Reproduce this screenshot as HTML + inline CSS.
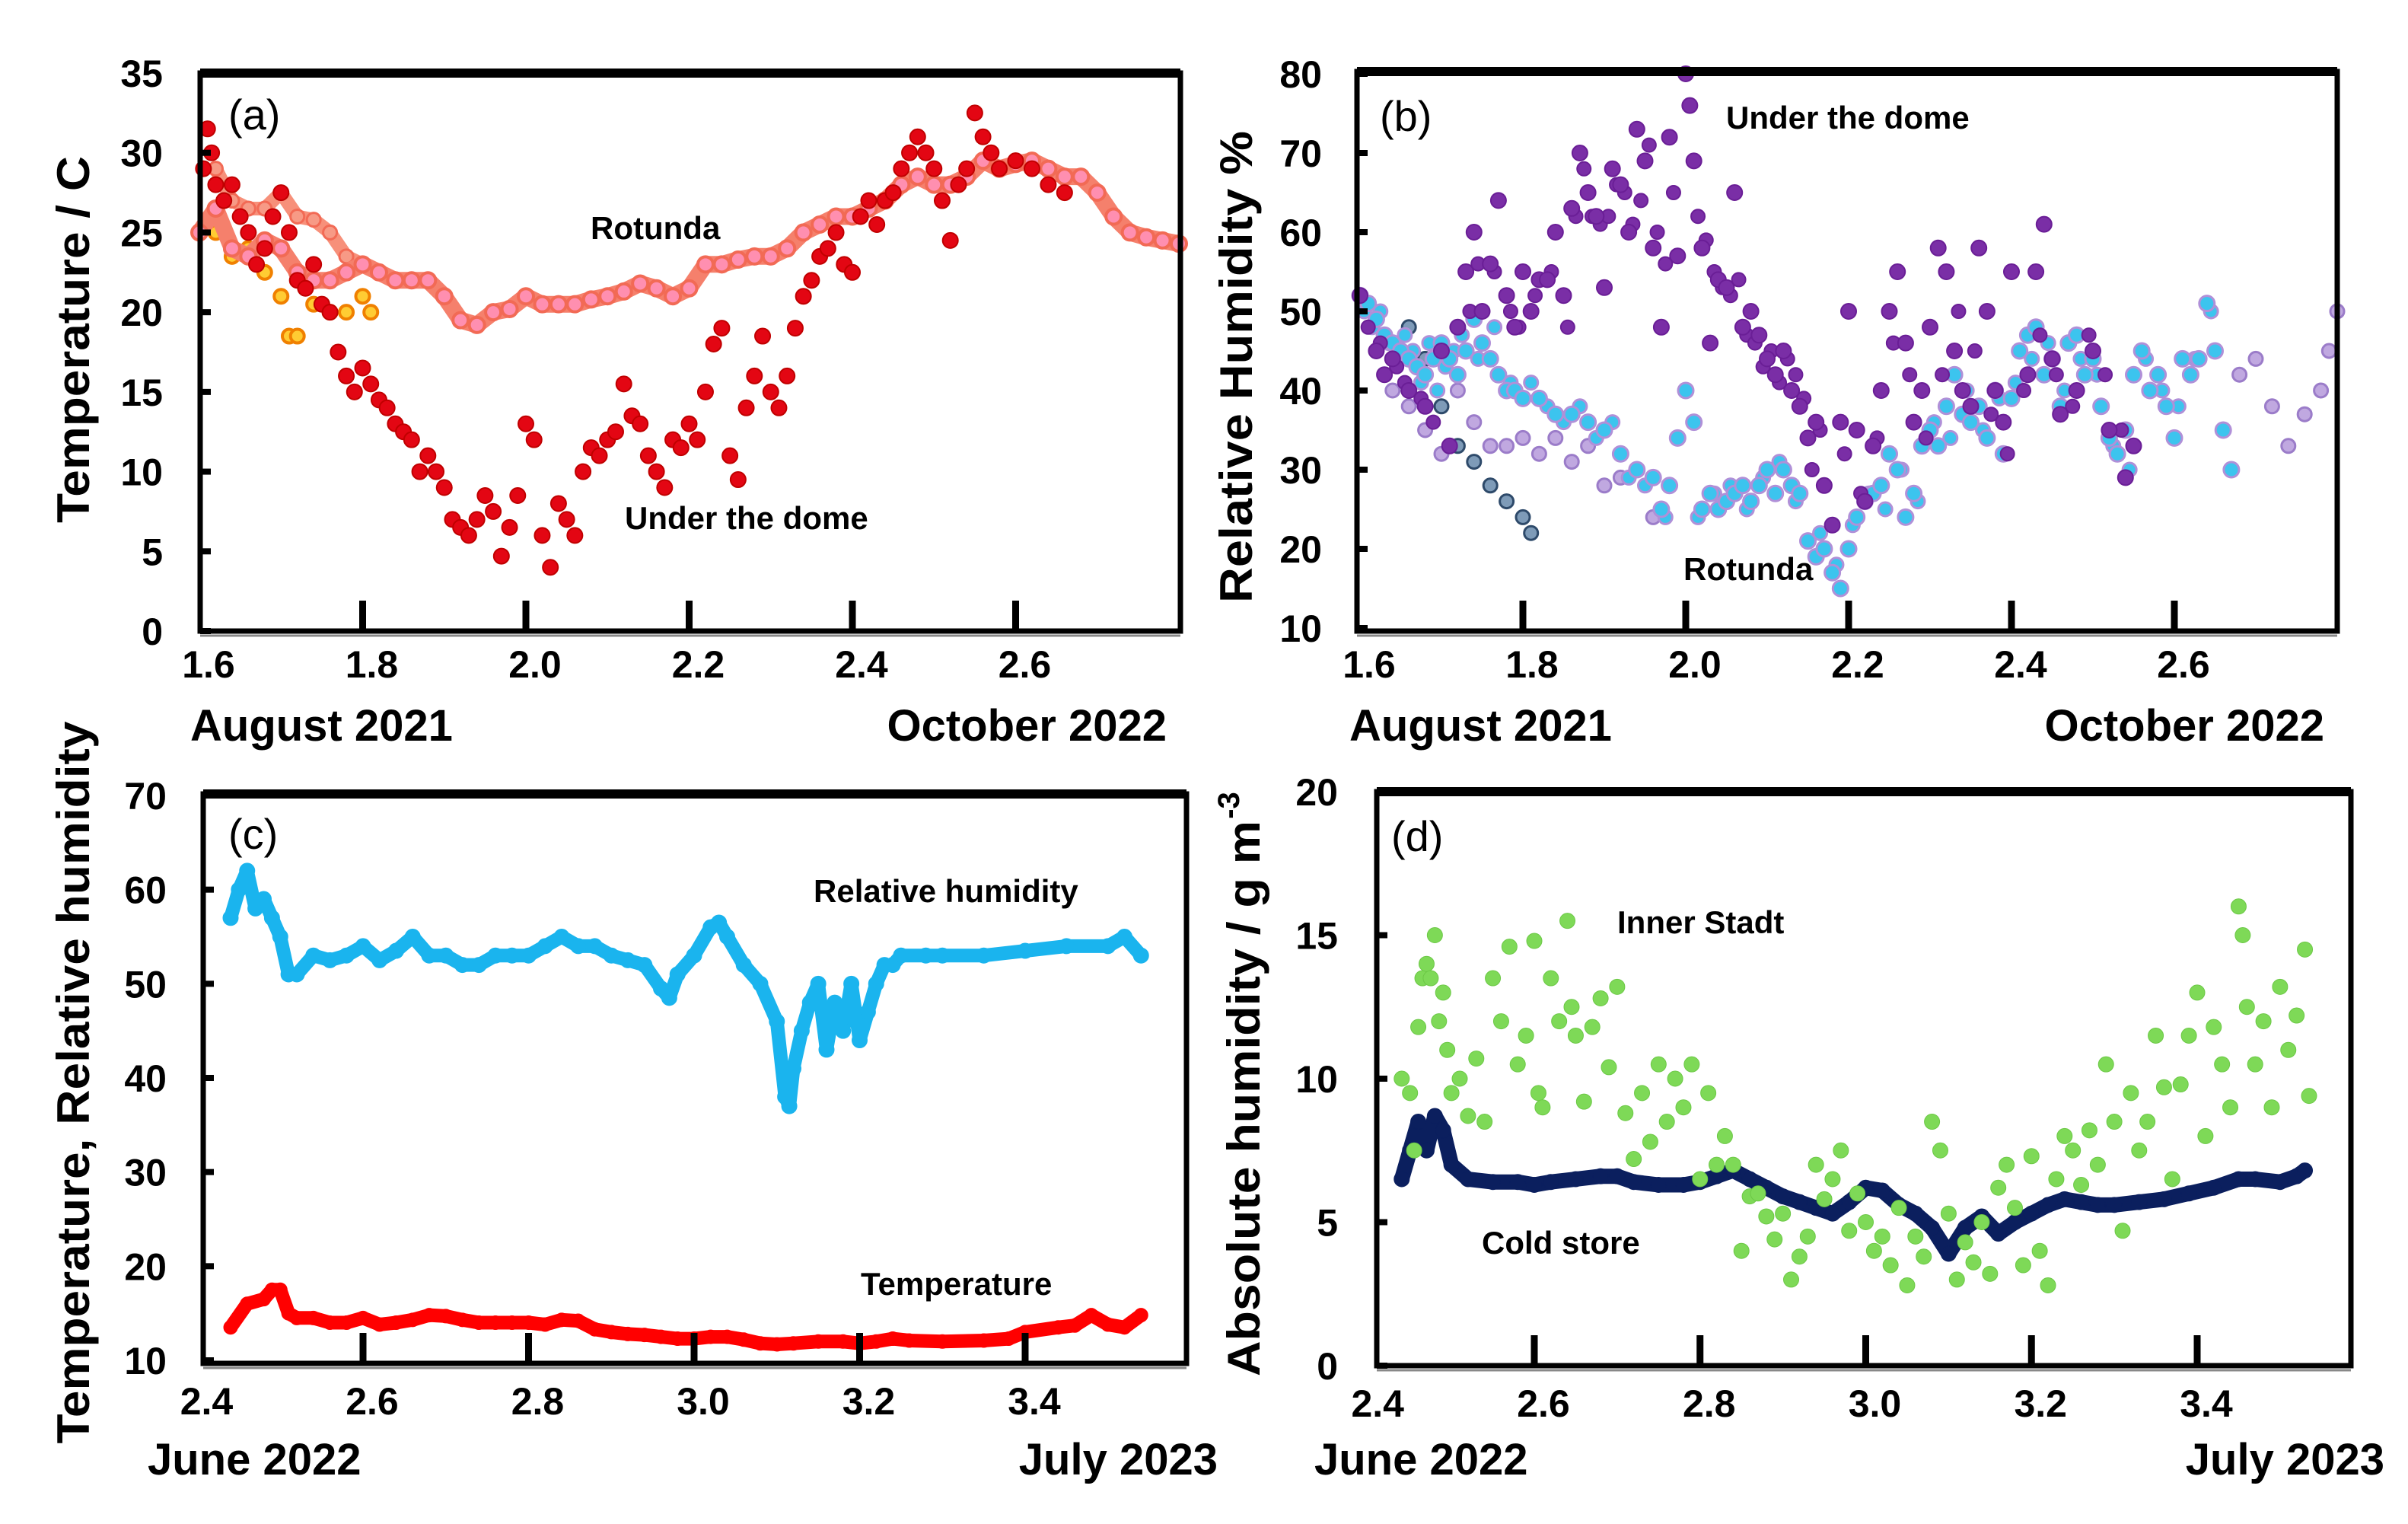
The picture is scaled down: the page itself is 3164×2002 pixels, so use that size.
<!DOCTYPE html>
<html><head><meta charset="utf-8">
<style>
html,body{margin:0;padding:0;background:#fff;}
svg{display:block;}
.tk{font-family:"Liberation Sans Narrow","Liberation Sans",sans-serif;font-weight:bold;font-size:50px;fill:#000;}
.dt{font-family:"Liberation Sans Narrow","Liberation Sans",sans-serif;font-weight:bold;font-size:58px;fill:#000;}
.ti{font-family:"Liberation Sans",sans-serif;font-weight:bold;font-size:60px;fill:#000;}
.an{font-family:"Liberation Sans Narrow","Liberation Sans",sans-serif;font-weight:bold;font-size:42px;fill:#000;}
.pl{font-family:"Liberation Sans",sans-serif;font-size:56px;fill:#000;}
</style></head>
<body>
<svg id="fig" width="3164" height="2002" viewBox="0 0 3164 2002" xmlns="http://www.w3.org/2000/svg">
<rect width="3164" height="2002" fill="#fff"/>
<g>
<text class="ti" transform="translate(117,446) rotate(-90)" text-anchor="middle" textLength="482" lengthAdjust="spacingAndGlyphs">Temperature / C</text>
<text class="pl" x="300" y="170">(a)</text>
<text class="an" x="776" y="314">Rotunda</text>
<text class="an" x="821" y="695">Under the dome</text>
<text class="dt" x="250" y="973">August 2021</text>
<text class="dt" x="1533" y="973" text-anchor="end">October 2022</text>
</g>
<g>
<text class="ti" transform="translate(1645,482) rotate(-90)" text-anchor="middle" textLength="620" lengthAdjust="spacingAndGlyphs">Relative Humidity %</text>
<text class="pl" x="1813" y="172">(b)</text>
<text class="an" x="2268" y="169">Under the dome</text>
<text class="an" x="2212" y="762">Rotunda</text>
<text class="dt" x="1773" y="973">August 2021</text>
<text class="dt" x="3054" y="973" text-anchor="end">October 2022</text>
</g>
<g>
<text class="ti" transform="translate(117,1422) rotate(-90)" text-anchor="middle" textLength="949" lengthAdjust="spacingAndGlyphs">Temperature, Relative humidity</text>
<text class="pl" x="300" y="1115">(c)</text>
<text class="an" x="1069" y="1185">Relative humidity</text>
<text class="an" x="1131" y="1701">Temperature</text>
<text class="dt" x="194" y="1937">June 2022</text>
<text class="dt" x="1600" y="1937" text-anchor="end">July 2023</text>
</g>
<g>
<text class="ti" transform="translate(1655,1443) rotate(-90)" text-anchor="middle" textLength="730" lengthAdjust="spacingAndGlyphs">Absolute humidity / g m</text>
<text class="ti" transform="translate(1628,1058) rotate(-90)" text-anchor="middle" style="font-size:40px">-3</text>
<text class="pl" x="1828" y="1118">(d)</text>
<text class="an" x="2125" y="1226">Inner Stadt</text>
<text class="an" x="1947" y="1647">Cold store</text>
<text class="dt" x="1727" y="1937">June 2022</text>
<text class="dt" x="3133" y="1937" text-anchor="end">July 2023</text>
</g>
</svg>
<script>
// ---------- Panel (a) data ----------
const aRotX = [1.60,1.62,1.64,1.66,1.68,1.70,1.72,1.74,1.76,1.78,1.80,1.82,1.84,1.86,1.88,1.90,1.92,1.94,1.96,1.98,2.00,2.02,2.04,2.06,2.08,2.10,2.12,2.14,2.16,2.18,2.20,2.22,2.24,2.26,2.28,2.30,2.32,2.34,2.36,2.38,2.40,2.42,2.44,2.46,2.48,2.50,2.52,2.54,2.56,2.58,2.60,2.62,2.64,2.66,2.68,2.70,2.72,2.74,2.76,2.78,2.80];
const aRotY = [25,26.5,24,23.5,24.5,24,22.5,22,22,22.5,23,22.5,22,22,22,21,19.5,19.2,20,20.2,21,20.5,20.5,20.5,20.8,21,21.3,21.8,21.5,21,21.5,23,23,23.3,23.5,23.5,24,25,25.5,26,26,26.5,27,28,28.5,28,28,28.5,29.5,29,29.3,29.5,29,28.5,28.5,27.5,26,25,24.7,24.5,24.3];
const aRotUpX = [1.62,1.64,1.66,1.68,1.70,1.72,1.74,1.76,1.78,1.80];
const aRotUpY = [29,27,26.5,26.5,27.5,26,25.8,25,23.5,23];
const aOrX = [1.62,1.64,1.66,1.68,1.70,1.71,1.72,1.74,1.76,1.78,1.80,1.81];
const aOrY = [25,23.5,24,22.5,21,18.5,18.5,20.5,20,20,21,20];
const aDomeX = [1.605,1.61,1.615,1.62,1.63,1.64,1.65,1.66,1.67,1.68,1.69,1.70,1.71,1.72,1.73,1.74,1.75,1.76,1.77,1.78,1.79,1.80,1.81,1.82,1.83,1.84,1.85,1.86,1.87,1.88,1.89,1.90,1.91,1.92,1.93,1.94,1.95,1.96,1.97,1.98,1.99,2.00,2.01,2.02,2.03,2.04,2.05,2.06,2.07,2.08,2.09,2.10,2.11,2.12,2.13,2.14,2.15,2.16,2.17,2.18,2.19,2.20,2.21,2.22,2.23,2.24,2.25,2.26,2.27,2.28,2.29,2.30,2.31,2.32,2.33,2.34,2.35,2.36,2.37,2.38,2.39,2.40,2.41,2.42,2.43,2.44,2.45,2.46,2.47,2.48,2.49,2.50,2.51,2.52,2.53,2.54,2.55,2.56,2.57,2.58,2.60,2.62,2.64,2.66];
const aDomeY = [29,31.5,30,28,27,28,26,25,23,24,26,27.5,25,22,21.5,23,20.5,20,17.5,16,15,16.5,15.5,14.5,14,13,12.5,12,10,11,10,9,7,6.5,6,7,8.5,7.5,4.7,6.5,8.5,13,12,6,4,8,7,6,10,11.5,11,12,12.5,15.5,13.5,13,11,10,9,12,11.5,13,12,15,18,19,11,9.5,14,16,18.5,15,14,16,19,21,22,23.5,24,25,23,22.5,26,27,25.5,27,27.5,29,30,31,30,29,27,24.5,28,29,32.5,31,30,29,29.5,29,28,27.5];
const aYTicks = [0,5,10,15,20,25,30,35];
const aXTicks = [1.6,1.8,2.0,2.2,2.4,2.6];
const aXLabels = ["1.6","1.8","2.0","2.2","2.4","2.6"];

// ---------- Panel (b) data ----------
const bDomeX = [1.60,1.62,1.63,1.64,1.66,1.68,1.70,1.71,1.72,1.73,1.74,1.75,1.76,1.77,1.78,1.79,1.80,1.81,1.82,1.83,1.84,1.85,1.86,1.87,1.88,1.89,1.90,1.91,1.92,1.93,1.94,1.95,1.96,1.97,1.98,1.99,2.00,2.005,2.01,2.02,2.03,2.04,2.05,2.06,2.07,2.08,2.09,2.10,2.11,2.12,2.13,2.14,2.15,2.16,2.17,2.18,2.19,2.20,2.21,2.22,2.23,2.24,2.25,2.26,2.27,2.28,2.29,2.30,2.31,2.32,2.33,2.34,2.35,2.36,2.37,2.38,2.39,2.40,2.42,2.43,2.44,2.45,2.46,2.48,2.50,2.52,2.54,2.55];
const bDomeY = [52,45,42,44,40,38,45,33,48,55,60,50,56,64,52,48,55,50,54,54,60,52,63,70,65,62,53,68,66,60,73,69,58,48,72,57,80,76,69,58,46,54,53,65,48,50,47,44,42,45,40,38,34,36,28,23,36,50,35,26,33,40,50,55,46,36,40,48,58,55,45,40,38,58,50,40,36,55,42,55,61,44,37,40,45,35,29,33];
const bDome2X = [1.61,1.625,1.645,1.655,1.675,1.69,1.735,1.745,1.765,1.785,1.795,1.815,1.835,1.855,1.865,1.875,1.885,1.895,1.905,1.915,1.925,1.935,1.945,1.955,1.965,1.975,1.985,2.015,2.025,2.035,2.045,2.055,2.065,2.075,2.085,2.095,2.105,2.115,2.125,2.135,2.145,2.155,2.165,2.195,2.215,2.235,2.255,2.275,2.295,2.315,2.335,2.355,2.375,2.395,2.415,2.435,2.455,2.475,2.495,2.515,2.535];
const bDome2Y = [48,46,43,41,39,36,50,56,55,50,48,52,55,48,62,68,62,61,62,66,65,61,64,71,60,56,65,62,59,55,53,52,54,47,46,43,45,41,44,42,39,30,35,32,27,34,46,42,34,42,50,45,37,32,40,47,42,38,47,42,35];
const bRotX = [1.60,1.61,1.62,1.63,1.64,1.65,1.66,1.67,1.68,1.69,1.70,1.71,1.72,1.73,1.74,1.75,1.76,1.77,1.78,1.79,1.80,1.82,1.84,1.86,1.88,1.90,1.92,1.94,1.96,1.97,1.98,1.99,2.00,2.01,2.02,2.03,2.04,2.05,2.06,2.07,2.08,2.09,2.10,2.11,2.12,2.13,2.14,2.15,2.16,2.17,2.18,2.19,2.20,2.21,2.22,2.23,2.24,2.25,2.26,2.27,2.28,2.29,2.30,2.31,2.32,2.33,2.34,2.35,2.36,2.37,2.38,2.39,2.40,2.41,2.42,2.43,2.44,2.45,2.46,2.47,2.48,2.49,2.50,2.51,2.52,2.53,2.54,2.55,2.56,2.57,2.58,2.59,2.60,2.61,2.62,2.63,2.64,2.65,2.66,2.67];
const bRotY = [52,51,49,47,46,45,44,43,42,44,46,44,42,45,49,46,44,42,40,40,39,39,37,37,36,35,32,30,29,25,28,34,40,36,25,27,25,26,27,28,26,28,30,27,30,28,27,21,19,20,17,15,20,24,26,27,28,32,30,24,27,33,35,33,38,42,37,36,38,34,40,32,39,45,47,48,42,44,38,46,47,42,44,38,34,32,35,42,45,40,42,38,34,44,42,44,51,45,35,30];
const bRot2X = [1.605,1.615,1.625,1.635,1.645,1.655,1.665,1.675,1.685,1.695,1.705,1.715,1.725,1.745,1.765,1.785,1.81,1.83,1.85,1.87,1.89,1.91,1.93,1.95,1.975,2.015,2.035,2.055,2.075,2.095,2.115,2.135,2.165,2.185,2.205,2.225,2.245,2.265,2.285,2.305,2.325,2.345,2.365,2.385,2.405,2.425,2.445,2.465,2.485,2.505,2.525,2.545,2.565,2.585,2.605,2.625,2.645];
const bRot2Y = [50,48,50,46,44,47,45,41,46,40,43,45,47,44,48,41,41,38,36,38,34,36,29,28,24,24,27,28,25,29,31,26,22,18,23,27,25,30,26,36,34,40,35,39,41,44,46,40,44,42,33,30,44,40,38,44,50];
const bLavX = [1.62,1.64,1.66,1.68,1.70,1.72,1.74,1.76,1.78,1.80,1.82,1.84,1.86,1.88,1.90,1.92,1.94,1.96,2.68,2.70,2.72,2.74,2.76,2.78,2.79,2.80];
const bLavY = [45,40,38,35,32,40,36,33,33,34,32,34,31,33,28,29,30,24,42,44,38,33,37,40,45,50];
const bSteelX = [1.66,1.68,1.70,1.72,1.74,1.76,1.78,1.80,1.81];
const bSteelY = [48,44,38,33,31,28,26,24,22];
const bYTicks = [10,20,30,40,50,60,70,80];
const bXTicks = [1.6,1.8,2.0,2.2,2.4,2.6];
const bXLabels = ["1.6","1.8","2.0","2.2","2.4","2.6"];

// ---------- Panel (c) data ----------
const cRhX = [2.44,2.45,2.46,2.47,2.48,2.49,2.50,2.51,2.52,2.54,2.56,2.58,2.60,2.62,2.64,2.66,2.68,2.70,2.72,2.74,2.76,2.78,2.80,2.82,2.84,2.86,2.88,2.90,2.92,2.94,2.96,2.97,2.98,3.00,3.02,3.03,3.04,3.06,3.08,3.10,3.11,3.115,3.12,3.13,3.14,3.15,3.16,3.17,3.18,3.19,3.20,3.21,3.22,3.23,3.24,3.25,3.28,3.30,3.35,3.40,3.45,3.50,3.52,3.54];
const cRhY = [57,60,62,58,59,57,55,51,51,53,52.5,53,54,52.5,53.5,55,53,53,52,52,53,53,53,54,55,54,54,53,52.5,52,49.5,48.5,51,53,56,56.5,55,52,50,46,38,37,41,45,48,50,43,48,45,50,44,47,50,52,52,53,53,53,53,53.5,54,54,55,53];
const cTX = [2.44,2.46,2.48,2.49,2.50,2.51,2.52,2.54,2.56,2.58,2.60,2.62,2.64,2.66,2.68,2.70,2.72,2.74,2.76,2.78,2.80,2.82,2.84,2.86,2.88,2.90,2.92,2.94,2.96,2.98,3.00,3.02,3.04,3.06,3.08,3.10,3.12,3.15,3.18,3.20,3.22,3.24,3.26,3.30,3.35,3.38,3.40,3.44,3.46,3.48,3.50,3.52,3.54];
const cTY = [13.5,16,16.5,17.5,17.5,15,14.5,14.5,14,14,14.5,13.8,14,14.3,14.8,14.7,14.3,14,14,14,14,13.8,14.3,14.2,13.3,13,12.8,12.7,12.5,12.3,12.3,12.5,12.5,12.2,11.8,11.7,11.8,12,12,11.8,12,12.3,12.1,12,12.1,12.3,13,13.5,13.7,14.8,13.8,13.5,14.8];
const cYTicks = [10,20,30,40,50,60,70];
const cXTicks = [2.6,2.8,3.0,3.2,3.4];
const cXLabelVals = [2.4,2.6,2.8,3.0,3.2,3.4];
const cXLabels = ["2.4","2.6","2.8","3.0","3.2","3.4"];

// ---------- Panel (d) data ----------
const dColdX = [2.44,2.45,2.46,2.47,2.48,2.49,2.50,2.52,2.55,2.58,2.60,2.62,2.65,2.68,2.70,2.72,2.75,2.78,2.80,2.82,2.84,2.86,2.88,2.90,2.92,2.94,2.96,2.98,3.00,3.02,3.04,3.06,3.08,3.10,3.12,3.14,3.16,3.18,3.20,3.22,3.24,3.26,3.28,3.30,3.33,3.36,3.39,3.42,3.45,3.47,3.50,3.52,3.53];
const dColdY = [6.5,7.5,8.5,7.5,8.7,8.2,7,6.5,6.4,6.4,6.3,6.4,6.5,6.6,6.6,6.4,6.3,6.3,6.4,6.6,6.8,6.5,6.2,5.9,5.7,5.5,5.3,5.7,6.2,6.1,5.6,5.3,4.8,3.9,4.8,5.2,4.6,5.0,5.3,5.6,5.8,5.7,5.6,5.6,5.7,5.8,6.0,6.2,6.5,6.5,6.4,6.6,6.8];
const dInnerX = [2.44,2.45,2.455,2.46,2.465,2.47,2.475,2.48,2.485,2.49,2.495,2.50,2.51,2.52,2.53,2.54,2.55,2.56,2.57,2.58,2.59,2.60,2.605,2.61,2.62,2.63,2.64,2.645,2.65,2.66,2.67,2.68,2.69,2.70,2.71,2.72,2.73,2.74,2.75,2.76,2.77,2.78,2.79,2.80,2.81,2.82,2.83,2.84,2.85,2.86,2.87,2.88,2.89,2.90,2.91,2.92,2.93,2.94,2.95,2.96,2.97,2.98,2.99,3.00,3.01,3.02,3.03,3.04,3.05,3.06,3.07,3.08,3.09,3.10,3.11,3.12,3.13,3.14,3.15,3.16,3.17,3.18,3.19,3.20,3.21,3.22,3.23,3.24,3.25,3.26,3.27,3.28,3.29,3.30,3.31,3.32,3.33,3.34,3.35,3.36,3.37,3.38,3.39,3.40,3.41,3.42,3.43,3.44,3.45,3.455,3.46,3.47,3.48,3.49,3.50,3.51,3.52,3.53,3.535];
const dInnerY = [10,9.5,7.5,11.8,13.5,14,13.5,15,12,13,11,9.5,10,8.7,10.7,8.5,13.5,12,14.6,10.5,11.5,14.8,9.5,9,13.5,12,15.5,12.5,11.5,9.2,11.8,12.8,10.4,13.2,8.8,7.2,9.5,7.8,10.5,8.5,10,9,10.5,6.5,9.5,7,8,7,4,5.9,6,5.2,4.4,5.3,3,3.8,4.5,7,5.8,6.5,7.5,4.7,6,5,4,4.5,3.5,5.5,2.8,4.5,3.8,8.5,7.5,5.3,3,4.3,3.6,5,3.2,6.2,7,5.5,3.5,7.3,4,2.8,6.5,8,7.5,6.3,8.2,7,10.5,8.5,4.7,9.5,7.5,8.5,11.5,9.7,6.5,9.8,11.5,13,8,11.8,10.5,9,16,15,12.5,10.5,12,9,13.2,11,12.2,14.5,9.4];
const dYTicks = [0,5,10,15,20];
const dXTicks = [2.6,2.8,3.0,3.2,3.4];
const dXLabelVals = [2.4,2.6,2.8,3.0,3.2,3.4];
const dXLabels = ["2.4","2.6","2.8","3.0","3.2","3.4"];

const NS = "http://www.w3.org/2000/svg";
const svg = document.getElementById("fig");
function el(tag, attrs, parent){
  const e = document.createElementNS(NS, tag);
  for (const k in attrs) e.setAttribute(k, attrs[k]);
  (parent||svg).appendChild(e);
  return e;
}
function scale(d0,d1,r0,r1){ return v => r0 + (v-d0)/(d1-d0)*(r1-r0); }

function frame(p, name){
  const g = el("g", {});
  
  
  const r = el("rect", {x:p.L, y:p.T, width:p.R-p.L, height:p.B-p.T, fill:"none", stroke:"#000", "stroke-width":7}, g);
  
  
  const t = el("line", {x1:p.L, y1:p.T, x2:p.R, y2:p.T, stroke:"#000", "stroke-width":12}, g);
  
  
  const b2 = el("line", {x1:p.L, y1:p.B+6, x2:p.R, y2:p.B+6, stroke:"#888", "stroke-width":3}, g);
  
  
}
function yAxis(p, ys, ticks, labX, name){
  const g = el("g", {});
  
  
  ticks.forEach(v => {
    const tl = el("line", {x1:p.L, y1:ys(v), x2:p.L+14, y2:ys(v), stroke:"#000", "stroke-width":8}, g);
    
    
    const tx = el("text", {x:labX, y:ys(v)+18, "text-anchor":"end", class:"tk"}, g);
    
    
    tx.textContent = String(v);
  });
}
function xAxis(p, xs, ticks, labVals, labs, labY, off, name){
  const g = el("g", {});
  
  
  ticks.forEach(v => {
    const tl = el("line", {x1:xs(v), y1:p.B, x2:xs(v), y2:p.B-40, stroke:"#000", "stroke-width":9}, g);
    
    
  });
  labVals.forEach((v,i) => {
    const tx = el("text", {x:xs(v)+off, y:labY, "text-anchor":"middle", class:"tk"}, g);
    
    
    tx.textContent = labs[i];
  });
}
function series(xs, ys, X, Y, r, fill, stroke, sw, name, line){
  const g = el("g", {});
  
  
  if (line){
    const pts = X.map((x,i) => xs(x).toFixed(1)+","+ys(Y[i]).toFixed(1)).join(" ");
    const pl = el("polyline", {points:pts, fill:"none", stroke:line.color, "stroke-width":line.w, "stroke-linejoin":"round", "stroke-linecap":"round"}, g);
    
    
  }
  X.forEach((x,i) => {
    const c = el("circle", {cx:xs(x), cy:ys(Y[i]), r:r, fill:fill, stroke:stroke, "stroke-width":sw}, g);
    
    
  });
}

// Panel a
const pa = {L:263, T:96, R:1551, B:829};
const axs = scale(1.6, 2.8, 262, 1549), ays = scale(0, 35, 829, 96);
series(axs, ays, aRotUpX, aRotUpY, 9, "#f79a86", "#f26a55", 3, "rotunda-upper-series-a", {color:"#f7907a", w:18});
series(axs, ays, aOrX, aOrY, 9, "#ffcc33", "#f08000", 4, "rotunda-orange-series-a", null);
series(axs, ays, aRotX, aRotY, 10, "#ff8fb0", "#f26a55", 4, "rotunda-series-a", {color:"#f5806c", w:22});
series(axs, ays, aDomeX, aDomeY, 10, "#e30613", "#c00000", 2, "under-dome-series-a", null);
frame(pa, "panel-a");
yAxis(pa, ays, aYTicks, 214, "panel-a");
xAxis(pa, axs, aXTicks.slice(1), aXTicks, aXLabels, 890, 12, "panel-a");

// Panel b
const pb = {L:1783, T:94, R:3071, B:829};
const bxs = scale(1.6, 2.8, 1787, 3071), bys = scale(10, 80, 825, 97);
series(bxs, bys, bLavX, bLavY, 9, "#c0a8e0", "#9b7cc9", 3, "rotunda-lavender-series-b", null);
series(bxs, bys, bSteelX, bSteelY, 9, "#7e9bb8", "#2e4a6a", 3, "rotunda-steel-series-b", null);
series(bxs, bys, bRot2X, bRot2Y, 9, "#3cc4ee", "#b090d8", 3, "rotunda-series-b-extra", null);
series(bxs, bys, bRotX, bRotY, 10, "#3cc4ee", "#b090d8", 3, "rotunda-series-b", null);
series(bxs, bys, bDome2X, bDome2Y, 9, "#7a2ea6", "#6a1e96", 2, "under-dome-series-b-extra", null);
series(bxs, bys, bDomeX, bDomeY, 10, "#7a2ea6", "#6a1e96", 2, "under-dome-series-b", null);
frame(pb, "panel-b");
yAxis(pb, bys, bYTicks, 1737, "panel-b");
xAxis(pb, bxs, bXTicks.slice(1), bXTicks, bXLabels, 890, 12, "panel-b");

// Panel c
const pc = {L:267, T:1043, R:1559, B:1791};
const cxs = scale(2.6, 3.4, 477, 1347), cys = scale(10, 70, 1787, 1045);
series(cxs, cys, cRhX, cRhY, 10, "#1ab4ee", "#1ab4ee", 1, "relative-humidity-series-c", {color:"#1ab4ee", w:18});
series(cxs, cys, cTX, cTY, 9, "#ff0000", "#ff0000", 1, "temperature-series-c", {color:"#ff0000", w:18});
frame(pc, "panel-c");
yAxis(pc, cys, cYTicks, 219, "panel-c");
xAxis(pc, cxs, cXTicks, cXLabelVals, cXLabels, 1858, 12, "panel-c");

// Panel d
const pd = {L:1809, T:1040, R:3089, B:1794};
const dxs = scale(2.6, 3.4, 2016, 2887), dys = scale(0, 20, 1794, 1040);
series(dxs, dys, dColdX, dColdY, 10, "#0b1f5e", "#0b1f5e", 1, "cold-store-series-d", {color:"#0b1f5e", w:20});
series(dxs, dys, dInnerX, dInnerY, 10, "#7ed957", "#6cc846", 1, "inner-stadt-series-d", null);
frame(pd, "panel-d");
yAxis(pd, dys, dYTicks, 1758, "panel-d");
xAxis(pd, dxs, dXTicks, dXLabelVals, dXLabels, 1861, 12, "panel-d");
</script>
</body></html>
